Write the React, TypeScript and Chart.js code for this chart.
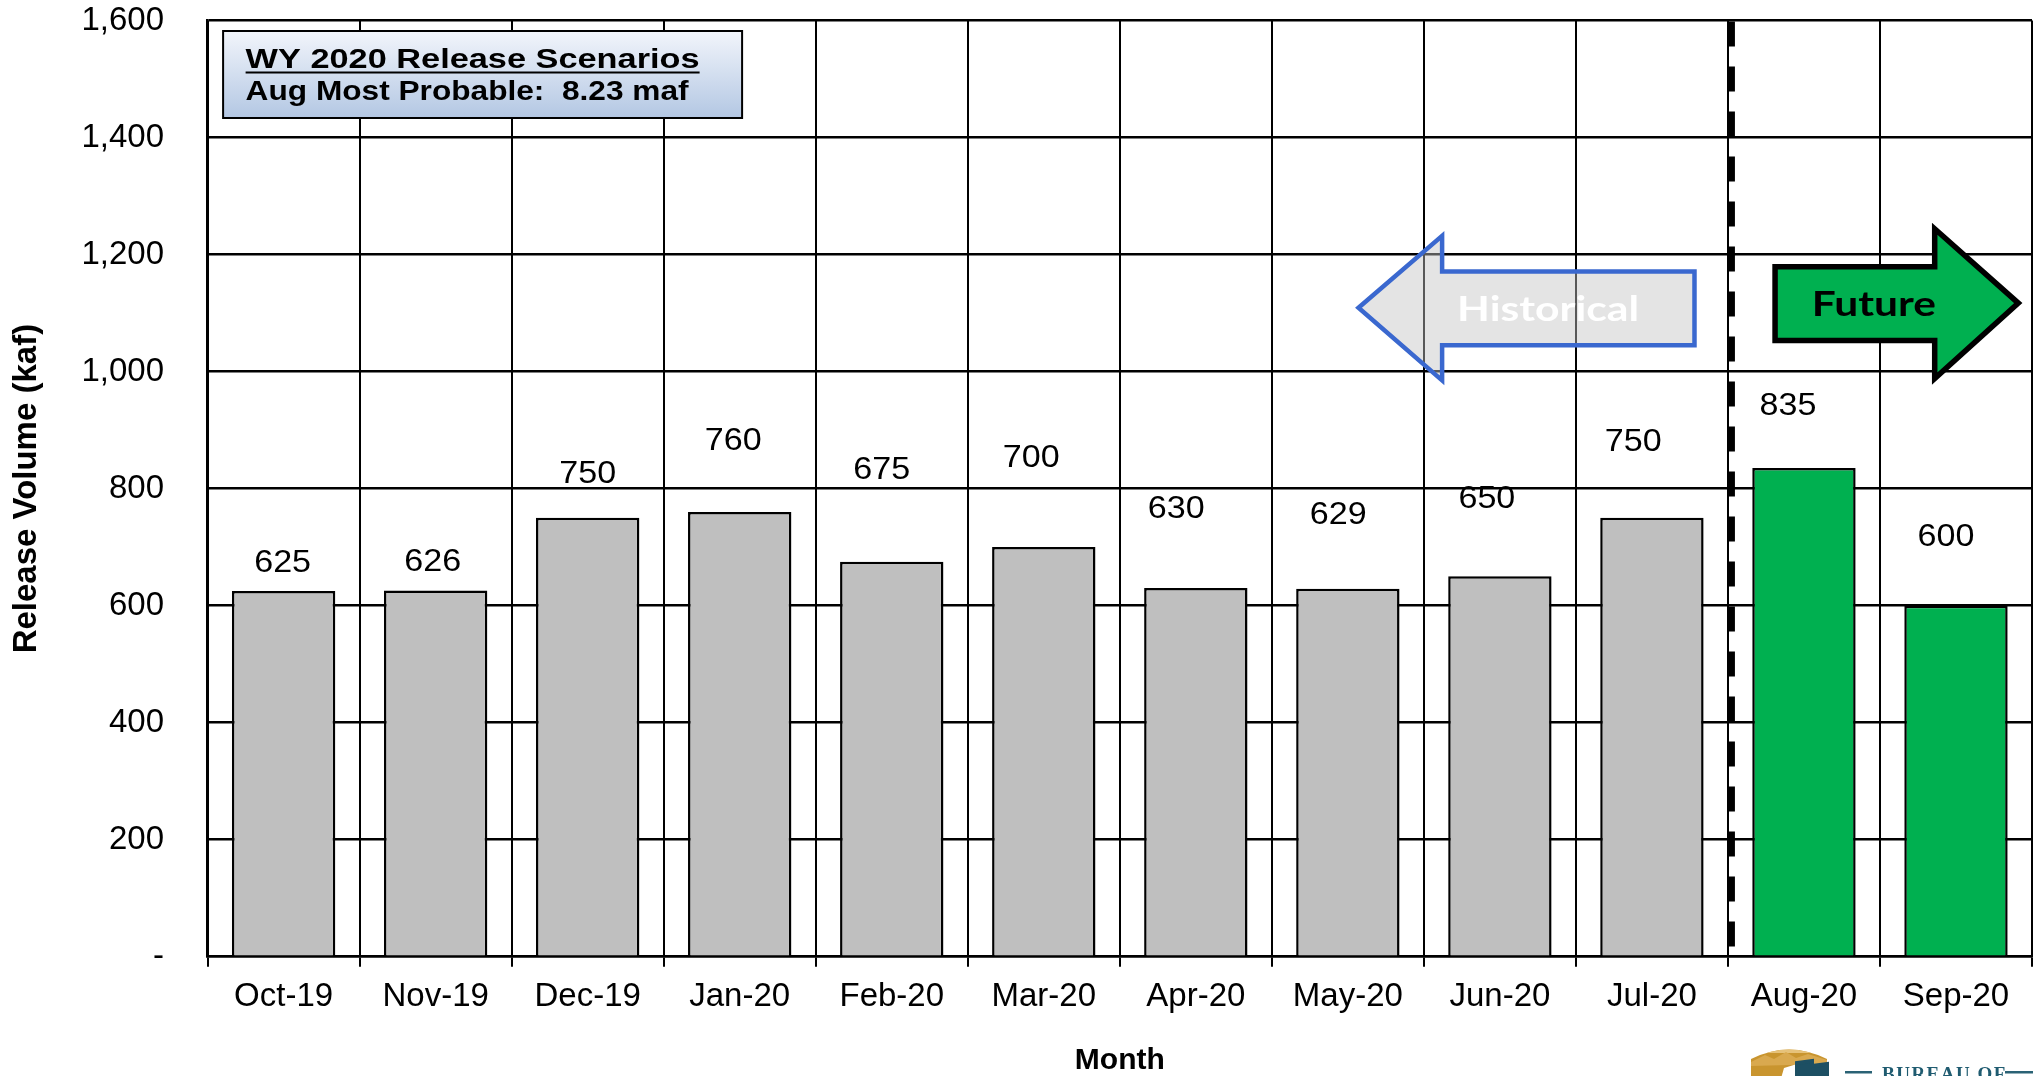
import React, { useEffect, useRef } from 'react';
import { Chart, registerables } from 'chart.js';

Chart.register(...registerables);

// ---------------- data ----------------
const months = ['Oct-19', 'Nov-19', 'Dec-19', 'Jan-20', 'Feb-20', 'Mar-20', 'Apr-20', 'May-20', 'Jun-20', 'Jul-20', 'Aug-20', 'Sep-20'];
const releaseVolumeKaf = [625, 626, 750, 760, 675, 700, 630, 629, 650, 750, 835, 600];
const historicalMonthCount = 10; // Oct-19 .. Jul-20 are historical, Aug-20 .. Sep-20 are future
const yTickValues = [0, 200, 400, 600, 800, 1000, 1200, 1400, 1600];
const legendTitle = 'WY 2020 Release Scenarios';
const legendSubtitle = 'Aug Most Probable:  8.23 maf';
const historicalLabel = 'Historical';
const futureLabel = 'Future';
const xAxisTitle = 'Month';
const yAxisTitle = 'Release Volume (kaf)';
const logoText = 'BUREAU OF';

// ---------------- style / placement ----------------
const FONT = '"Liberation Sans", Arial, Helvetica, sans-serif';
const ARROW_FONT = 'Lato, "Open Sans", sans-serif';
const HIST_COLOR = '#BFBFBF';
const FUTURE_COLOR = '#00B050';

// value-label placement (pixel shift from bar centre, rise above bar top)
const LABEL_SHIFT_X = [-1, -3, 0, -6.5, -10, -12.5, -19.5, -9.7, -13, -18.6, -16, -10];
const LABEL_RISE = [28, 27.6, 43, 70.6, 91.4, 88.8, 78.8, 73, 76.6, 75.5, 62, 68.6];

// arrow annotations in axis units (x: category index, y: kaf)
const HIST_ARROW = { tipX: 7.07, tipY: 1109, headX: 7.62, headTop: 1232, headBottom: 985, tailX: 9.28, shaftTop: 1171, shaftBottom: 1045, textX: 8.317, textY: 1106 };
const FUT_ARROW = { tipX: 11.41, tipY: 1117, headX: 10.86, headTop: 1244, headBottom: 988, tailX: 9.81, shaftTop: 1179, shaftBottom: 1053, textX: 10.46, textY: 1113 };

function drawStretched(ctx: CanvasRenderingContext2D, text: string, x: number, y: number, font: string, color: string, stretch: number, align: CanvasTextAlign = 'center', baseline: CanvasTextBaseline = 'middle') {
  ctx.save();
  ctx.font = font;
  ctx.fillStyle = color;
  ctx.textAlign = align;
  ctx.textBaseline = baseline;
  ctx.translate(x, y);
  ctx.scale(stretch, 1);
  ctx.fillText(text, 0, 0);
  ctx.restore();
}

function polygon(ctx: CanvasRenderingContext2D, pts: number[][]) {
  ctx.beginPath();
  pts.forEach(([px, py], i) => (i ? ctx.lineTo(px, py) : ctx.moveTo(px, py)));
  ctx.closePath();
}

const overlayPlugin = {
  id: 'overlay',
  afterDatasetsDraw(chart: any) {
    const { ctx, chartArea, scales } = chart;
    const xs = scales.x;
    const ys = scales.y;
    const X = (v: number) => xs.getPixelForValue(v);
    const Y = (v: number) => ys.getPixelForValue(v);

    // dashed divider between historical and future
    const xDiv = (X(historicalMonthCount - 1) + X(historicalMonthCount)) / 2 + 3.5;
    ctx.save();
    ctx.beginPath();
    ctx.rect(chartArea.left, chartArea.top, chartArea.right - chartArea.left, chartArea.bottom - chartArea.top);
    ctx.clip();
    ctx.setLineDash([25, 20]);
    ctx.lineWidth = 7;
    ctx.strokeStyle = '#000';
    ctx.beginPath();
    ctx.moveTo(xDiv, chartArea.top + 1);
    ctx.lineTo(xDiv, chartArea.bottom);
    ctx.stroke();
    ctx.restore();

    // value labels
    const meta = chart.getDatasetMeta(0);
    meta.data.forEach((bar: any, i: number) => {
      drawStretched(ctx, String(releaseVolumeKaf[i]), bar.x + LABEL_SHIFT_X[i], bar.y - LABEL_RISE[i], `31px ${FONT}`, '#000', 1.1);
    });

    // legend box
    const bx = chartArea.left + 15.5;
    const by = chartArea.top + 10.5;
    const bw = 519;
    const bh = 87;
    ctx.save();
    const grad = ctx.createLinearGradient(0, by, 0, by + bh);
    grad.addColorStop(0, '#F2F5FB');
    grad.addColorStop(1, '#B3C7E3');
    ctx.fillStyle = grad;
    ctx.fillRect(bx, by, bw, bh);
    ctx.lineWidth = 2;
    ctx.strokeStyle = '#000';
    ctx.strokeRect(bx, by, bw, bh);
    ctx.font = `bold 27px ${FONT}`;
    const w1 = ctx.measureText(legendTitle).width;
    const w2 = ctx.measureText(legendSubtitle).width;
    ctx.restore();
    const s1 = 454 / w1;
    const s2 = 443 / w2;
    drawStretched(ctx, legendTitle, bx + 22.5, by + 37, `bold 27px ${FONT}`, '#000', s1, 'left', 'alphabetic');
    ctx.save();
    ctx.fillStyle = '#000';
    ctx.fillRect(bx + 22.5, by + 40.5, 454, 2);
    ctx.restore();
    drawStretched(ctx, legendSubtitle, bx + 22.5, by + 69, `bold 27px ${FONT}`, '#000', s2, 'left', 'alphabetic');

    // historical arrow (pointing left)
    const h = HIST_ARROW;
    ctx.save();
    polygon(ctx, [
      [X(h.tipX), Y(h.tipY)], [X(h.headX), Y(h.headTop)], [X(h.headX), Y(h.shaftTop)], [X(h.tailX), Y(h.shaftTop)],
      [X(h.tailX), Y(h.shaftBottom)], [X(h.headX), Y(h.shaftBottom)], [X(h.headX), Y(h.headBottom)],
    ]);
    ctx.fillStyle = 'rgba(195,195,195,0.45)';
    ctx.fill();
    ctx.lineWidth = 4.5;
    ctx.lineJoin = 'miter';
    ctx.strokeStyle = '#3A68CF';
    ctx.stroke();
    ctx.restore();
    drawStretched(ctx, historicalLabel, X(h.textX), Y(h.textY), `bold 35px ${ARROW_FONT}`, '#FFFFFF', 1.22);

    // future arrow (pointing right)
    const f = FUT_ARROW;
    ctx.save();
    polygon(ctx, [
      [X(f.tailX), Y(f.shaftTop)], [X(f.headX), Y(f.shaftTop)], [X(f.headX), Y(f.headTop)], [X(f.tipX), Y(f.tipY)],
      [X(f.headX), Y(f.headBottom)], [X(f.headX), Y(f.shaftBottom)], [X(f.tailX), Y(f.shaftBottom)],
    ]);
    ctx.fillStyle = FUTURE_COLOR;
    ctx.fill();
    ctx.lineWidth = 5.5;
    ctx.lineJoin = 'miter';
    ctx.strokeStyle = '#000';
    ctx.stroke();
    ctx.restore();
    drawStretched(ctx, futureLabel, X(f.textX), Y(f.textY), `bold 34px ${ARROW_FONT}`, '#000', 1.25);
  },
  afterDraw(chart: any) {
    // partial agency logo at the bottom-right corner
    const { ctx } = chart;
    const H = chart.height;
    ctx.save();
    const l = 1751, r = 1827, top = 1049;
    ctx.beginPath();
    ctx.moveTo(l, H + 6);
    ctx.lineTo(l, top + 10);
    ctx.quadraticCurveTo((l + r) / 2, top - 9, r, top + 10);
    ctx.lineTo(r, H + 6);
    ctx.closePath();
    ctx.fillStyle = '#C9952F';
    ctx.fill();
    ctx.save();
    ctx.clip();
    ctx.fillStyle = '#E6C27A';
    ctx.fillRect(l, top - 10, r - l, 14);
    ctx.fillStyle = '#D9A94F';
    polygon(ctx, [[l, 1062], [1765, 1055], [1774, 1059], [1786, 1052], [1796, 1058], [1808, 1054], [r, 1060], [r, 1064], [l, 1066]]);
    ctx.fill();
    ctx.fillStyle = '#FFFFFF';
    polygon(ctx, [[1780, H + 6], [1784, 1068], [1797, 1064], [1797, H + 6]]);
    ctx.fill();
    ctx.fillStyle = '#1D4F63';
    polygon(ctx, [[1797, H + 6], [1797, 1063], [1812, 1061], [1812, 1066], [r, 1064], [r, H + 6]]);
    ctx.fill();
    ctx.restore();
    ctx.lineWidth = 4;
    ctx.strokeStyle = '#1D4F63';
    ctx.stroke();
    ctx.fillStyle = '#2A6275';
    ctx.fillRect(1845, 1071, 27, 2.5);
    ctx.fillRect(2005, 1071, 30, 2.5);
    ctx.font = 'bold 19px "Liberation Serif", "DejaVu Serif", serif';
    (ctx as any).letterSpacing = '1.5px';
    ctx.textAlign = 'left';
    ctx.textBaseline = 'alphabetic';
    ctx.fillStyle = '#1F5B70';
    ctx.fillText(logoText, 1882, 1080);
    ctx.restore();
  },
};

export default function App() {
  const canvasRef = useRef<HTMLCanvasElement | null>(null);

  useEffect(() => {
    if (!canvasRef.current) return;
    const chart = new Chart(canvasRef.current, {
      type: 'bar',
      data: {
        labels: months,
        datasets: [
          {
            data: releaseVolumeKaf,
            backgroundColor: months.map((_, i) => (i < historicalMonthCount ? HIST_COLOR : FUTURE_COLOR)),
            borderColor: '#000',
            borderWidth: 2.5,
            barPercentage: 0.68,
            categoryPercentage: 1,
          },
        ],
      },
      options: {
        responsive: true,
        maintainAspectRatio: false,
        animation: false,
        devicePixelRatio: 1,
        layout: { padding: { top: 20.5, right: 1, left: 0, bottom: 0 } },
        plugins: {
          legend: { display: false },
          tooltip: { enabled: false },
          title: { display: false },
        },
        scales: {
          x: {
            offset: true,
            grid: { offset: true, color: '#000', lineWidth: 2, tickLength: 10, tickColor: '#000', tickWidth: 2 },
            border: { color: '#000', width: 2.5 },
            ticks: { font: { family: FONT, size: 33 }, color: '#000', padding: 10, maxRotation: 0, autoSkip: false },
            title: { display: true, text: xAxisTitle, font: { family: FONT, size: 30, weight: 'bold' }, color: '#000', padding: { top: 0, bottom: -3 } },
            afterFit: (s: any) => {
              s.height = 119.3;
              s.paddingLeft = 0;
              s.paddingRight = 0;
            },
          },
          y: {
            min: 0,
            max: 1600,
            afterBuildTicks: (s: any) => {
              s.ticks = yTickValues.map((v) => ({ value: v }));
            },
            grid: { color: '#000', lineWidth: 2.5, drawTicks: false },
            border: { color: '#000', width: 2.5 },
            ticks: {
              font: { family: FONT, size: 33 },
              color: '#000',
              padding: 43.6,
              callback: (v: any) => (Number(v) === 0 ? '-' : Number(v).toLocaleString('en-US')),
            },
            title: { display: true, text: yAxisTitle, font: { family: FONT, size: 33, weight: 'bold' }, color: '#000', padding: { top: 7, bottom: 0 } },
            afterFit: (s: any) => {
              s.width = 207.6;
              s.paddingTop = 0;
              s.paddingBottom = 0;
            },
          },
        },
      } as any,
      plugins: [overlayPlugin],
    });
    return () => chart.destroy();
  }, []);

  return (
    <div style={{ position: 'fixed', left: 0, top: 0, width: 2033, height: 1076, background: '#fff' }}>
      <canvas ref={canvasRef} />
    </div>
  );
}
